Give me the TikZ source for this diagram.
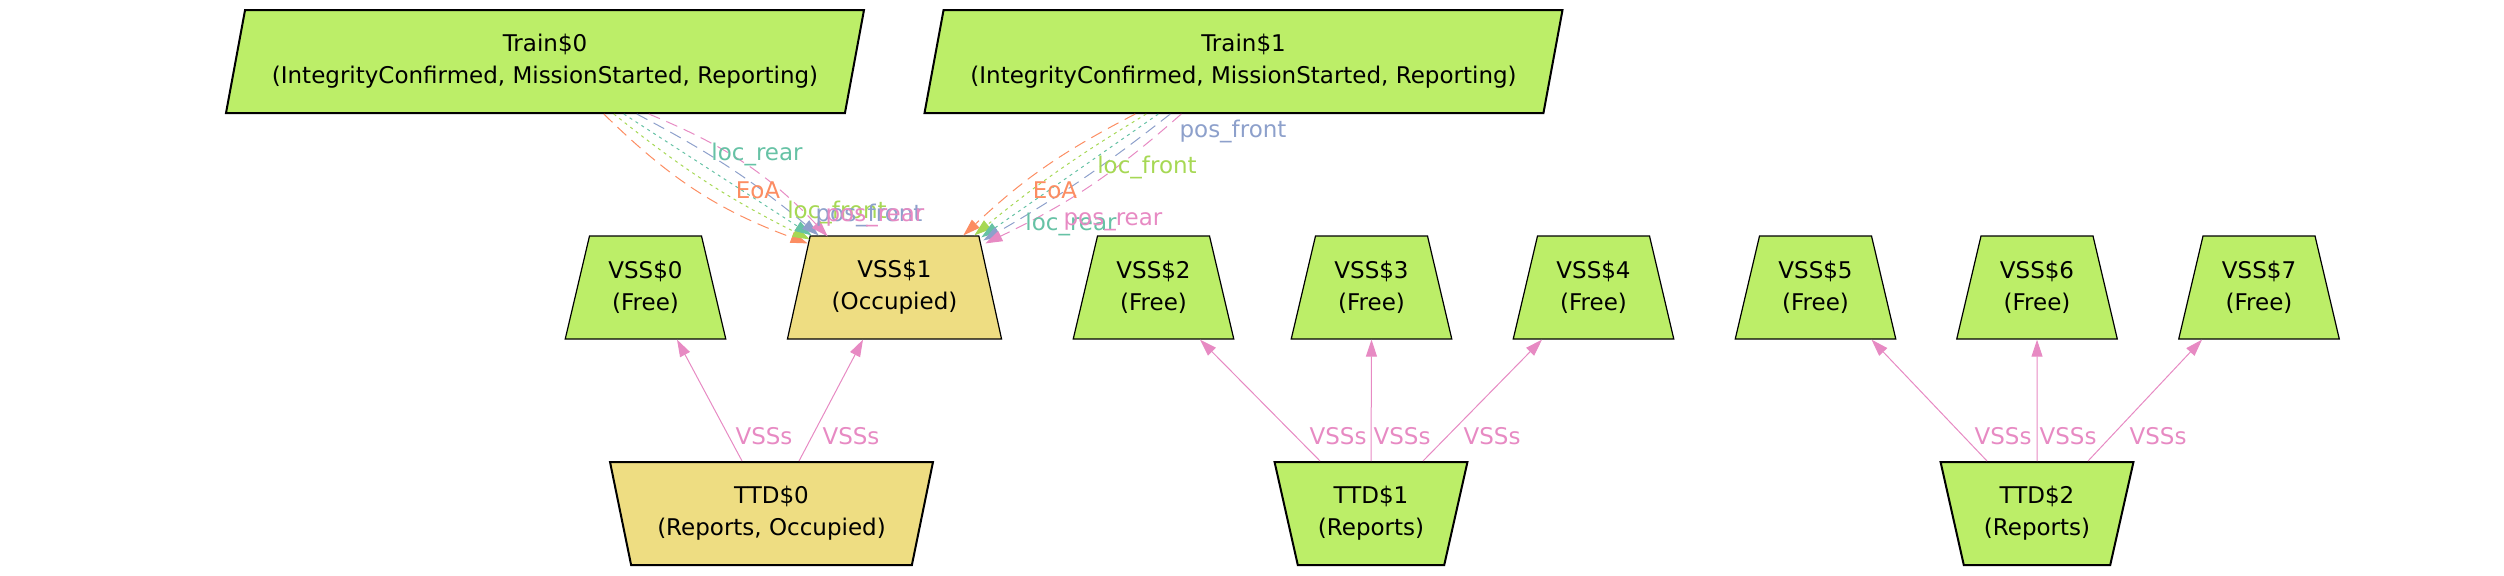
\documentclass[tikz,border=0pt]{standalone}
\usepackage{fontspec}
\setmainfont{DejaVu Sans}
\usetikzlibrary{shapes.geometric,arrows.meta,calc}
\definecolor{nodegreen}{HTML}{BCEE68}
\definecolor{nodeyellow}{HTML}{EEDD82}
\definecolor{cteal}{HTML}{66C2A5}
\definecolor{corange}{HTML}{FC8D62}
\definecolor{cblue}{HTML}{8DA0CB}
\definecolor{cpink}{HTML}{E78AC3}
\definecolor{clime}{HTML}{A6D854}
\begin{document}
\begin{tikzpicture}[x=0.5pt,y=-0.5pt,
  every node/.style={font=\fontsize{11.5pt}{16pt}\selectfont, align=center, inner sep=1pt},
  basebox/.style={shape=trapezium, trapezium stretches=true, draw=black, minimum height=51.5pt},
  trainbox/.style={basebox, trapezium left angle=73.3, trapezium right angle=106.7, minimum width=319pt, line width=1pt, fill=nodegreen},
  vssbox/.style={basebox, trapezium left angle=73.3, trapezium right angle=73.3, minimum width=80.5pt, line width=0.6pt, fill=nodegreen},
  ttdbox/.style={basebox, trapezium left angle=106.7, trapezium right angle=106.7, minimum width=97pt, line width=1pt, fill=nodegreen},
  lbl/.style={anchor=base},
  arr/.style={line width=0.5pt, -{Triangle[length=8.5pt,width=5.5pt]}},
  vssedge/.style={arr, draw=cpink},
  tdashed/.style={arr, dash pattern=on 6pt off 3.5pt},
  tdotted/.style={arr, dash pattern=on 1.5pt off 2pt}
]
\useasboundingbox (0,0) rectangle (2504,575);

% Trains
\node[trainbox] (train0) at (545,61.5) {Train\$0\\(IntegrityConfirmed, MissionStarted, Reporting)};
\node[trainbox] (train1) at (1243.5,61.5) {Train\$1\\(IntegrityConfirmed, MissionStarted, Reporting)};

% VSS
\node[vssbox] (vss0) at (645.5,287.5) {VSS\$0\\(Free)};
\node[vssbox, fill=nodeyellow, minimum width=107.5pt] (vss1) at (894.5,287.5) {VSS\$1\\(Occupied)};
\node[vssbox] (vss2) at (1153.5,287.5) {VSS\$2\\(Free)};
\node[vssbox] (vss3) at (1371.5,287.5) {VSS\$3\\(Free)};
\node[vssbox] (vss4) at (1593.5,287.5) {VSS\$4\\(Free)};
\node[vssbox] (vss5) at (1815.5,287.5) {VSS\$5\\(Free)};
\node[vssbox] (vss6) at (2037,287.5) {VSS\$6\\(Free)};
\node[vssbox] (vss7) at (2259,287.5) {VSS\$7\\(Free)};

% TTD
\node[ttdbox, fill=nodeyellow, minimum width=161.5pt] (ttd0) at (771.5,513.5) {TTD\$0\\(Reports, Occupied)};
\node[ttdbox] (ttd1) at (1371,513.5) {TTD\$1\\(Reports)};
\node[ttdbox] (ttd2) at (2037,513.5) {TTD\$2\\(Reports)};

% TTD -> VSS edges
\draw[vssedge] ($(ttd0.north)+(-29.5,0)$) -- ($(vss0.south)+(31.5,0)$);
\draw[vssedge] ($(ttd0.north)+(27.5,0)$) -- ($(vss1.south)+(-31.5,0)$);
\draw[vssedge] ($(ttd1.north)+(-51,0)$) -- ($(vss2.south)+(46.5,0)$);
\draw[vssedge] (ttd1.north) -- (vss3.south);
\draw[vssedge] ($(ttd1.north)+(52,0)$) -- ($(vss4.south)+(-51.5,0)$);
\draw[vssedge] ($(ttd2.north)+(-50,0)$) -- ($(vss5.south)+(56,0)$);
\draw[vssedge] (ttd2.north) -- (vss6.south);
\draw[vssedge] ($(ttd2.north)+(51,0)$) -- ($(vss7.south)+(-57,0)$);

\node[lbl, text=cpink] (v0a) at (764,444) {VSSs};
\node[lbl, text=cpink] (v0b) at (851,444) {VSSs};
\node[lbl, text=cpink] (v1a) at (1338,444) {VSSs};
\node[lbl, text=cpink] (v1b) at (1402,444) {VSSs};
\node[lbl, text=cpink] (v1c) at (1492,444) {VSSs};
\node[lbl, text=cpink] (v2a) at (2003,444) {VSSs};
\node[lbl, text=cpink] (v2b) at (2068,444) {VSSs};
\node[lbl, text=cpink] (v2c) at (2158,444) {VSSs};

% Train0 -> VSS1
\draw[tdashed, corange] ($(train0.bottom left corner)+(379,0)$) to[bend right=12] ($(vss1.top left corner)+(-2,8)$);
\draw[tdotted, clime] ($(train0.bottom left corner)+(389,0)$) to[bend right=6] ($(vss1.top left corner)+(0,4)$);
\draw[tdotted, cteal] ($(train0.bottom left corner)+(399,0)$) to[bend right=0] ($(vss1.top left corner)+(2,0)$);
\draw[tdashed, cblue] ($(train0.bottom left corner)+(412,0)$) to[bend left=6] ($(vss1.top left corner)+(9,0)$);
\draw[tdashed, cpink] ($(train0.bottom left corner)+(424,0)$) to[bend left=12] ($(vss1.top left corner)+(18,1)$);

% Train1 -> VSS1
\draw[tdashed, corange] ($(train1.bottom left corner)+(212,0)$) to[bend right=8] ($(vss1.top right corner)+(-16,0)$);
\draw[tdotted, clime] ($(train1.bottom left corner)+(223,0)$) to[bend right=4] ($(vss1.top right corner)+(-5,0)$);
\draw[tdotted, cteal] ($(train1.bottom left corner)+(235,0)$) to[bend right=0] ($(vss1.top right corner)+(2,2)$);
\draw[tdashed, cblue] ($(train1.bottom left corner)+(247,0)$) to[bend left=4] ($(vss1.top right corner)+(4,5)$);
\draw[tdashed, cpink] ($(train1.bottom left corner)+(258,0)$) to[bend left=8] ($(vss1.top right corner)+(6,8)$);

% Train edge labels
\node[lbl, text=cteal] (t0lr) at (757,160) {loc\_rear};
\node[lbl, text=corange] (t0eoa) at (758,198) {EoA};
\node[lbl, text=clime] (t0lf) at (837,218) {loc\_front};
\node[lbl, text=cblue] (t0pf) at (869,221) {pos\_front};
\node[lbl, text=cpink] (t0pr) at (875,221) {pos\_rear};

\node[lbl, text=cblue] (t1pf) at (1233,137) {pos\_front};
\node[lbl, text=clime] (t1lf) at (1147,173) {loc\_front};
\node[lbl, text=corange] (t1eoa) at (1055,198) {EoA};
\node[lbl, text=cteal] (t1lr) at (1071,230) {loc\_rear};
\node[lbl, text=cpink] (t1pr) at (1113,225) {pos\_rear};
\end{tikzpicture}
\end{document}
